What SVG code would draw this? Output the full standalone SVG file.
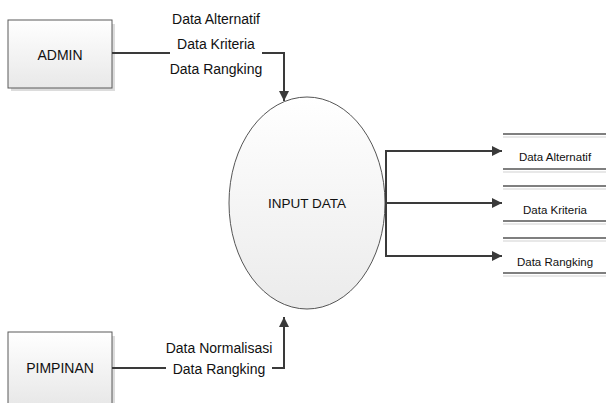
<svg xmlns="http://www.w3.org/2000/svg" width="606" height="403" viewBox="0 0 606 403">
<defs>
<linearGradient id="g" x1="0" y1="0" x2="0" y2="1"><stop offset="0" stop-color="#ffffff"/><stop offset="1" stop-color="#e8e8e8"/></linearGradient>
<linearGradient id="ge" x1="0" y1="0" x2="0" y2="1"><stop offset="0" stop-color="#ffffff"/><stop offset="1" stop-color="#ebebeb"/></linearGradient>
<marker id="ah" markerWidth="10" markerHeight="10" refX="10" refY="5" orient="auto" markerUnits="userSpaceOnUse" viewBox="0 0 10 10"><path d="M0,0 L10,5 L0,10 z" fill="#3a3a3a"/></marker>
</defs>
<style>
text{font-family:"Liberation Sans",Arial,sans-serif;fill:#111}
.box{fill:url(#g);stroke:#5a5a5a;stroke-width:1}
.sh{fill:#dcdcdc}
.c{fill:none;stroke:#3a3a3a;stroke-width:2}
.lb{font-size:14px;text-anchor:middle}
.st{stroke:#555;stroke-width:1.6}
.sts{stroke:#e0e0e0;stroke-width:1.6}
.sl{font-size:11.5px;text-anchor:middle}
</style>
<rect width="606" height="403" fill="#ffffff"/>
<g id="admin">
<rect class="sh" x="11" y="24" width="104" height="67"/>
<rect class="box" x="8" y="20" width="104" height="68"/>
<text x="60" y="60" font-size="14" text-anchor="middle">ADMIN</text>
</g>
<g id="pimpinan">
<rect class="sh" x="11" y="336" width="104" height="70"/>
<rect class="box" x="8" y="332" width="104" height="72"/>
<text x="60" y="373" font-size="14" text-anchor="middle">PIMPINAN</text>
</g>
<g id="input-data">
<ellipse cx="307" cy="203" rx="78" ry="106" fill="url(#ge)" stroke="#555" stroke-width="1"/>
<text x="307" y="208" font-size="13.5" text-anchor="middle">INPUT DATA</text>
</g>
<g id="store-alternatif">
<line class="sts" x1="503" y1="137" x2="606" y2="137"/>
<line class="sts" x1="503" y1="172" x2="606" y2="172"/>
<line class="st" x1="503" y1="134" x2="606" y2="134"/>
<line class="st" x1="503" y1="169" x2="606" y2="169"/>
<text class="sl" x="555" y="161">Data Alternatif</text>
</g>
<g id="store-kriteria">
<line class="sts" x1="503" y1="189" x2="606" y2="189"/>
<line class="sts" x1="503" y1="224" x2="606" y2="224"/>
<line class="st" x1="503" y1="186" x2="606" y2="186"/>
<line class="st" x1="503" y1="221" x2="606" y2="221"/>
<text class="sl" x="555" y="214">Data Kriteria</text>
</g>
<g id="store-rangking">
<line class="sts" x1="503" y1="241" x2="606" y2="241"/>
<line class="sts" x1="503" y1="276" x2="606" y2="276"/>
<line class="st" x1="503" y1="238" x2="606" y2="238"/>
<line class="st" x1="503" y1="273" x2="606" y2="273"/>
<text class="sl" x="555" y="266">Data Rangking</text>
</g>
<g id="connectors">
<path class="c" d="M112,53 H170"/>
<path class="c" d="M262,53 H284 V101" marker-end="url(#ah)"/>
<path class="c" d="M112,368 H166"/>
<path class="c" d="M272,368 H284 V317" marker-end="url(#ah)"/>
<path class="c" d="M385,151 H502" marker-end="url(#ah)"/>
<path class="c" d="M385,203 H502" marker-end="url(#ah)"/>
<path class="c" d="M386,151 V256 H502" marker-end="url(#ah)"/>
<text class="lb" x="216" y="24">Data Alternatif</text>
<text class="lb" x="216" y="49">Data Kriteria</text>
<text class="lb" x="216" y="74">Data Rangking</text>
<text class="lb" x="219" y="353">Data Normalisasi</text>
<text class="lb" x="219" y="374">Data Rangking</text>
</g>
</svg>
